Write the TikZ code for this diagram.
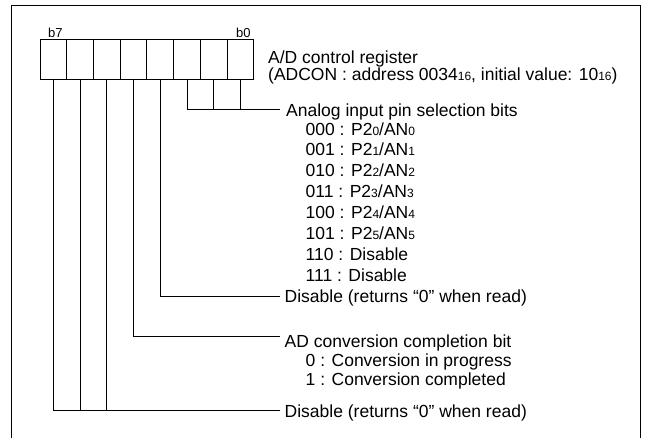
\documentclass[tikz,border=0pt]{standalone}
\usepackage{fontspec}
\setmainfont{Liberation Sans}
\newcommand\smalldig[1]{{\fontsize{12}{12}\selectfont #1}}
\begin{document}
\begin{tikzpicture}[x=1pt,y=-1pt,
  txt/.style={anchor=base west,inner sep=0pt,font=\fontsize{17.5}{18}\selectfont},
  bitlbl/.style={anchor=base west,inner sep=0pt,font=\fontsize{13}{14}\selectfont},
  cell/.style={draw,line width=0.9pt,minimum width=26.7pt,minimum height=40pt,inner sep=0pt,outer sep=0pt},
  wire/.style={line width=0.9pt},
  framebox/.style={line width=1.4pt}]
\useasboundingbox (0,0) rectangle (647,437);
\draw[framebox] (11.5,445) -- (11.5,5.5) -- (640.7,5.5) -- (640.7,445);
% register cells
\foreach \i in {0,...,7} \node[cell] (c\i) at ({240.35-26.7*\i},59.3) {};
\node[bitlbl] (b7) at (48,37.5) {b7};
\node[bitlbl] (b0) at (236,37.5) {b0};
% texts
\node[txt] (reg1) at (268,63.3) {A/D control register};
\node[txt] (reg2) at (268,80.7) {(ADCON : address 0034\smalldig{16}, initial value: 10\smalldig{16})};
\node[txt] (ana) at (286,116.7) {Analog input pin selection bits};
\node[txt] (r0) at (305.5,135.0) {000 : P2\smalldig{0}/AN\smalldig{0}};
\node[txt] (r1) at (305.5,155.9) {001 : P2\smalldig{1}/AN\smalldig{1}};
\node[txt] (r2) at (305.5,176.8) {010 : P2\smalldig{2}/AN\smalldig{2}};
\node[txt] (r3) at (305.5,197.7) {011 : P2\smalldig{3}/AN\smalldig{3}};
\node[txt] (r4) at (305.5,218.6) {100 : P2\smalldig{4}/AN\smalldig{4}};
\node[txt] (r5) at (305.5,239.5) {101 : P2\smalldig{5}/AN\smalldig{5}};
\node[txt] (r6) at (305.5,260.4) {110 : Disable};
\node[txt] (r7) at (305.5,281.3) {111 : Disable};
\node[txt] (dis3) at (284.5,302.5) {Disable (returns “0” when read)};
\node[txt] (adc) at (284.5,347.3) {AD conversion completion bit};
\node[txt] (adc0) at (305.5,366.7) {0 : Conversion in progress};
\node[txt] (adc1) at (305.5,385.5) {1 : Conversion completed};
\node[txt] (dis75) at (284.5,417) {Disable (returns “0” when read)};
% connectors
\coordinate (anaj) at ([xshift=-6pt,yshift=7.4pt]ana.base west);
\draw[wire] (c2.south) |- (anaj);
\draw[wire] (c1.south) -- (c1.south |- anaj);
\draw[wire] (c0.south) -- (c0.south |- anaj);
\coordinate (d3j) at ([xshift=-4.5pt,yshift=5.8pt]dis3.base west);
\draw[wire] (c3.south) |- (d3j);
\coordinate (adj) at ([xshift=-4.5pt,yshift=11.3pt]adc.base west);
\draw[wire] (c4.south) |- (adj);
\coordinate (d75j) at ([xshift=-4.5pt,yshift=6.8pt]dis75.base west);
\draw[wire] (c7.south) |- (d75j);
\draw[wire] (c6.south) -- (c6.south |- d75j);
\draw[wire] (c5.south) -- (c5.south |- d75j);
\end{tikzpicture}
\end{document}
